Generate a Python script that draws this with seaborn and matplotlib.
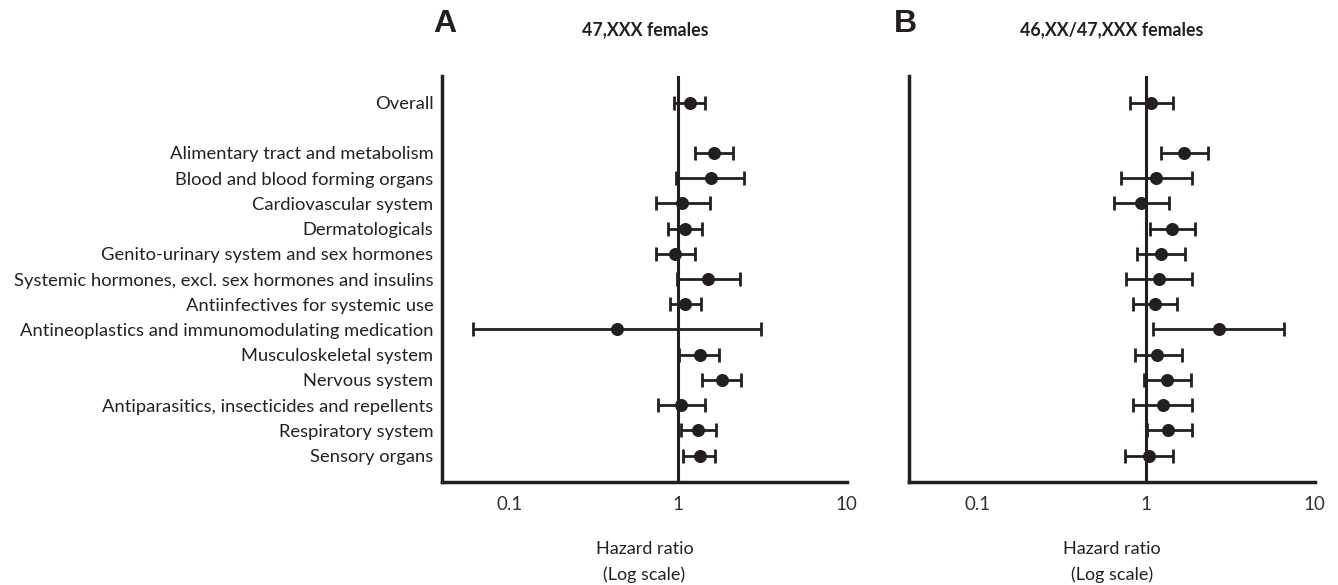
import numpy as np
import pandas as pd
import matplotlib
matplotlib.use("Agg")
import matplotlib.pyplot as plt
import seaborn as sns

categories = ["Overall",
              "Alimentary tract and metabolism",
              "Blood and blood forming organs",
              "Cardiovascular system",
              "Dermatologicals",
              "Genito-urinary system and sex hormones",
              "Systemic hormones, excl. sex hormones and insulins",
              "Antiinfectives for systemic use",
              "Antineoplastics and immunomodulating medication",
              "Musculoskeletal system",
              "Nervous system",
              "Antiparasitics, insecticides and repellents",
              "Respiratory system",
              "Sensory organs"]

# Panel A: 47,XXX females
hr_a = [1.17, 1.63, 1.56, 1.06, 1.10, 0.96, 1.50, 1.10, 0.43, 1.34, 1.82, 1.04, 1.32, 1.34]
lo_a = [0.95, 1.26, 0.97, 0.74, 0.875, 0.74, 0.99, 0.89, 0.060, 1.01, 1.38, 0.76, 1.04, 1.075]
hi_a = [1.45, 2.12, 2.48, 1.54, 1.38, 1.26, 2.32, 1.36, 3.09, 1.74, 2.37, 1.45, 1.68, 1.66]

# Panel B: 46,XX/47,XXX females
hr_b = [1.08, 1.69, 1.15, 0.93, 1.44, 1.23, 1.19, 1.13, 2.71, 1.17, 1.33, 1.26, 1.36, 1.05]
lo_b = [0.81, 1.23, 0.71, 0.65, 1.06, 0.89, 0.76, 0.84, 1.105, 0.86, 0.97, 0.84, 1.01, 0.75]
hi_b = [1.45, 2.33, 1.88, 1.38, 1.96, 1.71, 1.87, 1.53, 6.6, 1.63, 1.85, 1.87, 1.88, 1.45]

panel_letters = ["A", "B"]
panel_titles = ["47,XXX females", "46,XX/47,XXX females"]
xticks = [0.1, 1, 10]
xtick_labels = ["0.1", "1", "10"]

sns.set_theme(style="white")
plt.rcParams['font.family'] = ['Lato', 'DejaVu Sans']

ink = "#231f20"
fig = plt.figure(figsize=(13.38, 5.85), dpi=100)
ax_a = fig.add_axes([0.3303, 0.176, 0.3027, 0.694])
ax_b = fig.add_axes([0.6794, 0.176, 0.3034, 0.694])

ypos = [0] + list(range(2, 2 + len(categories) - 1))

for ax, hr, lo, hi, show_labels in [
        (ax_a, hr_a, lo_a, hi_a, True),
        (ax_b, hr_b, lo_b, hi_b, False)]:
    df = pd.DataFrame({"cat": categories, "hr": hr, "lo": lo, "hi": hi, "y": ypos})
    ax.set_xscale("log")
    ax.set_xlim(0.0393, 10.1)
    ax.set_ylim(15.05, -1.05)
    ax.axvline(1, color=ink, lw=2.2, zorder=1)
    xerr = np.vstack([df["hr"] - df["lo"], df["hi"] - df["hr"]])
    ax.errorbar(df["hr"], df["y"], xerr=xerr, fmt="none", ecolor=ink,
                elinewidth=2.0, capsize=4.8, capthick=2.0, zorder=2)
    sns.scatterplot(data=df, x="hr", y="y", ax=ax, color=ink, s=88,
                    edgecolor=ink, linewidth=0, zorder=3, legend=False)
    for s in ["top", "right"]:
        ax.spines[s].set_visible(False)
    for s in ["left", "bottom"]:
        ax.spines[s].set_color(ink)
        ax.spines[s].set_linewidth(2.5)
    ax.set_xticks(xticks)
    ax.set_xticklabels(xtick_labels, fontsize=13.5, color="#333333")
    ax.xaxis.set_minor_locator(matplotlib.ticker.NullLocator())
    ax.tick_params(axis="x", length=0, pad=10)
    ax.set_yticks(df["y"])
    if show_labels:
        ax.set_yticklabels(df["cat"], fontsize=13.2, color="#222222")
    else:
        ax.set_yticklabels([])
    ax.tick_params(axis="y", length=0, pad=6)
    ax.set_xlabel("Hazard ratio\n(Log scale)", fontsize=13, color="#222222",
                  labelpad=20, linespacing=1.75)
    ax.set_ylabel("")
    ax.grid(False)

fig.text(445/1338, 1 - 24/585, panel_letters[0], fontsize=23, fontweight="bold",
         family="Liberation Sans", color=ink, ha="center", va="center")
fig.text(645/1338, 1 - 30/585, panel_titles[0], fontsize=12.8, fontweight="bold",
         color=ink, ha="center", va="center")
fig.text(905/1338, 1 - 24/585, panel_letters[1], fontsize=23, fontweight="bold",
         family="Liberation Sans", color=ink, ha="center", va="center")
fig.text(1112/1338, 1 - 30/585, panel_titles[1], fontsize=12.8, fontweight="bold",
         color=ink, ha="center", va="center")

fig.savefig("out.png", dpi=100)
